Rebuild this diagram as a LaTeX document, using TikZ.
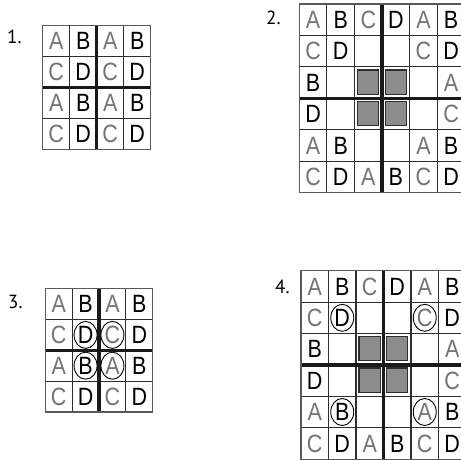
\documentclass[tikz,border=0pt]{standalone}
\usepackage{fontspec}
\setmainfont{Liberation Sans}
\newfontfamily\cellfont[FakeStretch=0.86]{Liberation Sans}
\newfontfamily\labfont{PT Sans}
\definecolor{lgray}{HTML}{747474}
\definecolor{sqfill}{HTML}{8C8C8C}
\definecolor{linec}{HTML}{2E2E2E}
\tikzset{
  ltr/.style={font=\cellfont\fontsize{25}{25}\selectfont, inner sep=0pt, anchor=center},
  let A/.style={text=lgray}, let B/.style={text=black},
  let C/.style={text=lgray}, let D/.style={text=black},
  thinl/.style={draw=linec, line width=1.1pt},
  thickl/.style={draw=black!90, line width=3.3pt},
  border/.style={draw=gray!70!black, line width=1.2pt},
  circ/.style={draw=black, line width=0.9pt},
  sqbox/.style={fill=sqfill, draw=linec, line width=1.2pt},
  lab/.style={font=\labfont\fontsize{19}{19}\selectfont, inner sep=0pt, anchor=base west}
}
\def\blank{x}
% #1 name, #2 x0, #3 y0, #4 cell width, #5 row height, #6 n, #7 rows
\newcommand\drawgrid[7]{%
  \begin{scope}[shift={(#2pt,-#3pt)},x=#4pt,y=-#5pt]
    \foreach \row [count=\j from 0] in {#7} {
      \foreach \L [count=\i from 0] in \row {
        \ifx\L\blank\else
          \node[ltr,let \L] (#1-\i-\j) at (\i+0.5,\j+0.5) {\L};
        \fi
      }
    }
    \pgfmathtruncatemacro\half{#6/2}
    \foreach \k in {0,...,#6} {
      \draw[thinl] (\k,0) -- (\k,#6);
      \draw[thinl] (0,\k) -- (#6,\k);
    }
    \draw[thickl] (\half,0) -- (\half,#6);
    \draw[thickl] (0,\half) -- (#6,\half);
    \draw[border] (0,0) rectangle (#6,#6);
  \end{scope}}
% squares: #1 x0, #2 y0, #3 cw, #4 rh
\newcommand\drawsquares[4]{%
  \begin{scope}[shift={(#1pt,-#2pt)},x=#3pt,y=-#4pt]
    \foreach \i/\j in {2/2,3/2,2/3,3/3}
      \draw[sqbox] (\i+0.11,\j+0.1) rectangle (\i+0.88,\j+0.87);
  \end{scope}}
\begin{document}
\begin{tikzpicture}[x=1pt,y=-1pt]
\path[use as bounding box, clip] (0,0) rectangle (461,459);
\fill[white] (0,0) rectangle (461,459);

% labels
\node[lab] (l1) at (7,43) {1.};
\node[lab] (l2) at (266,24) {2.};
\node[lab] (l3) at (8,308) {3.};
\node[lab] (l4) at (275,293) {4.};

% grid 1
\drawgrid{g1}{42.7}{25.3}{27}{31}{4}{{A,B,A,B},{C,D,C,D},{A,B,A,B},{C,D,C,D}}

% grid 2
\drawsquares{299.3}{4}{27.6}{31.45}
\drawgrid{g2}{299.3}{4}{27.6}{31.45}{6}{{A,B,C,D,A,B},{C,D,x,x,C,D},{B,x,x,x,x,A},{D,x,x,x,x,C},{A,B,x,x,A,B},{C,D,A,B,C,D}}

% grid 3
\drawgrid{g3}{45.3}{288.7}{26.85}{30.8}{4}{{A,B,A,B},{C,D,C,D},{A,B,A,B},{C,D,C,D}}
\foreach \c in {g3-1-1,g3-2-1,g3-1-2,g3-2-2}
  \draw[circ] (\c.center) ellipse [x radius=11.5pt, y radius=13.5pt];

% grid 4
\drawsquares{301}{270.7}{27.5}{31.4}
\drawgrid{g4}{301}{270.7}{27.5}{31.4}{6}{{A,B,C,D,A,B},{C,D,x,x,C,D},{B,x,x,x,x,A},{D,x,x,x,x,C},{A,B,x,x,A,B},{C,D,A,B,C,D}}
\foreach \c in {g4-1-1,g4-4-1,g4-1-4,g4-4-4}
  \draw[circ] (\c.center) ellipse [x radius=11.5pt, y radius=13.5pt];
\end{tikzpicture}
\end{document}
